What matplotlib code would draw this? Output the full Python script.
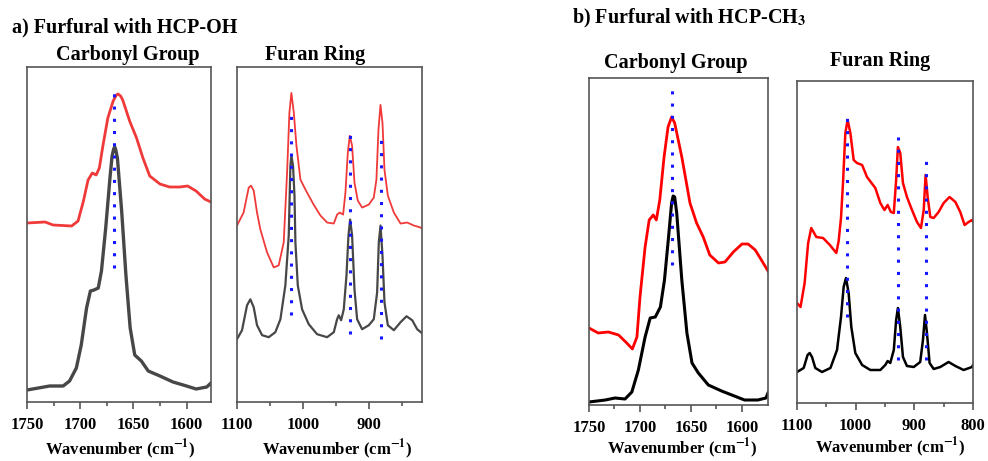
import numpy as np
import matplotlib.pyplot as plt

plt.rcParams['font.family'] = ['Liberation Serif', 'DejaVu Serif']
plt.rcParams['font.weight'] = 'bold'
plt.rcParams['mathtext.fontset'] = 'stix'

# ---- panel a, carbonyl region ----
a_co_red_x = [1750, 1733, 1725.5, 1708, 1702, 1697, 1692.6, 1688.6, 1685, 1682, 1678.5, 1674, 1669,
              1666, 1664.4, 1662, 1660, 1653.5, 1647, 1641, 1634.6, 1625, 1616, 1606.5, 1599, 1591,
              1583, 1577]
a_co_red_y = [179, 180, 177, 176, 181, 200.7, 222, 229, 227, 234, 257, 284, 301,
              307, 308, 306, 302, 281, 264, 244, 226, 218, 215, 215, 216, 211,
              203, 200]
a_co_blk_x = [1750, 1728.7, 1716, 1710, 1703.6, 1699, 1694, 1690.4, 1687, 1683, 1680, 1676, 1672,
              1670, 1668.5, 1667.5, 1666.5, 1665, 1661, 1657, 1653, 1648.7, 1642.5, 1636, 1625,
              1612.7, 1600, 1591, 1581, 1577]
a_co_blk_y = [12, 16, 16, 21, 34, 57, 94, 111, 112, 114, 131, 174, 224,
              246, 253, 255, 252, 244, 191, 127, 74, 47, 41, 31, 26,
              20, 16, 13, 15, 19]
a_co_marks = [(1668.2, 134, 317)]

# ---- panel a, furan ring region ----
a_fr_red_x = [1100, 1090, 1082.3, 1078.8, 1074.7, 1069.7, 1064.6, 1054.5, 1044.4, 1036.9, 1029.3,
              1024.2, 1020.7, 1017.7, 1014, 1010, 1004, 994, 984, 973.7, 963.6, 953.5, 948.5, 944.4,
              939.4, 935.9, 932.3, 929.3, 925.8, 922.2, 917.2, 910.6, 900.5, 893, 889, 885.9, 882.8,
              879.8, 876.8, 871.7, 862.6, 852.5, 842.4, 832.3, 822.2, 820]
a_fr_red_y = [177, 190, 215, 217, 212, 190, 173, 150, 135, 137, 160,
              230, 290, 310, 290, 257, 223, 210, 198, 187, 180, 179, 188, 190,
              188, 210, 250, 267, 257, 220, 202, 195, 198, 205, 223, 273, 298,
              280, 233, 207, 190, 179, 180, 177, 175, 174]
a_fr_blk_x = [1100, 1092.4, 1084.8, 1079.8, 1074.7, 1069.7, 1062, 1052, 1042, 1034.3, 1026.8, 1021.7,
              1019.2, 1017.7, 1015.2, 1013, 1011.6, 1008, 1001.5, 991.4, 978.8, 963.6, 953.5, 948.5,
              946, 942.4, 938.4, 934.3, 931.3, 928.8, 925.8, 922.2, 918.2, 910.6, 900.5, 893, 887.9,
              885.4, 882.8, 879.8, 876.8, 871.7, 862.6, 852.5, 843.4, 834.8, 827.3, 820]
a_fr_blk_y = [63, 72, 97, 103, 95, 77, 67, 65, 70, 83, 117, 167,
              237, 247, 237, 207, 160, 117, 93, 78, 68, 65, 70, 83,
              87, 82, 93, 127, 167, 183, 167, 113, 83, 73, 77, 83, 110,
              160, 177, 147, 100, 77, 72, 80, 86, 82, 73, 69]
a_fr_marks = [(1017.7, 87, 293), (928.8, 68, 275), (882.5, 63, 268)]

# ---- panel b, carbonyl region ----
b_co_red_x = [1750, 1741, 1731, 1721, 1713, 1707.5, 1703, 1700, 1695, 1691, 1687, 1684, 1680.6, 1676.4,
              1672.5, 1669, 1666, 1659, 1651, 1644.5, 1638, 1631.6, 1623, 1616.7, 1608.5, 1600, 1594,
              1587, 1581, 1574.5]
b_co_red_y = [77, 72, 73, 70, 62, 56, 68, 108, 158, 185, 190, 185, 205, 248,
              278, 288, 282, 248, 202, 182, 168, 150, 142, 143, 153, 161, 161,
              155, 145, 134]
b_co_blk_x = [1750, 1734, 1724.5, 1714.7, 1708, 1701.6, 1695, 1690, 1685, 1680, 1676, 1672, 1669,
              1667.5, 1666, 1664, 1659, 1654, 1649, 1642.8, 1633, 1620, 1610, 1597.5, 1584.5, 1576.5,
              1574.5]
b_co_blk_y = [3, 5, 7, 6, 13, 35, 68, 87, 88, 98, 125, 168, 202,
              209, 208, 192, 125, 72, 42, 32, 20, 14, 10, 5, 5, 7,
              12]
b_co_marks = [(1668.7, 140, 318)]

# ---- panel b, furan ring region ----
b_fr_red_x = [1100, 1094, 1087, 1081, 1075.7, 1067, 1055.6, 1044, 1033, 1029, 1025, 1021.6, 1017.6,
              1013.7, 1009, 1003.4, 997.8, 989, 980.7, 966.5, 958, 951, 945.5, 940, 935, 931, 928, 924,
              919.4, 912.6, 904, 895.5, 888.7, 884, 880.8, 877.3, 872.8, 867, 858.6, 850, 840, 830,
              821.7, 814.3, 807.5, 801.8, 800]
b_fr_red_y = [100, 96, 120, 160, 175, 166, 165, 158, 150, 162, 185, 220, 270,
              283, 270, 243, 240, 238, 226, 215, 200, 193, 198, 191, 190, 223, 256, 250,
              220, 206, 193, 181, 175, 193, 228, 206, 186, 185, 191, 200, 206, 201,
              191, 178, 181, 183, 182]
b_fr_blk_x = [1100, 1088.6, 1082, 1078.4, 1074.4, 1068.8, 1057.4, 1043, 1031.8, 1025, 1020.5, 1016.5,
              1012, 1007.4, 1000.6, 989, 975, 958, 949.5, 945.5, 941, 935, 931, 928, 924, 919.4, 912.6,
              901, 890, 885.3, 881.8, 878.5, 874, 867, 855.8, 841.6, 830, 816, 801.8, 800]
b_fr_blk_y = [31, 35, 48, 50, 46, 35, 31, 35, 53, 86, 116, 125,
              110, 76, 50, 38, 33, 33, 38, 42, 40, 53, 83, 95, 76, 46, 37,
              36, 41, 63, 88, 70, 40, 34, 36, 41, 37, 33, 36, 38]
b_fr_marks = [(1014.8, 86, 290), (927.3, 43, 270), (880.8, 43, 250)]

W, H = 988, 461
fig = plt.figure(figsize=(W / 100, H / 100), dpi=100)


def box(x0, y0, x1, y1):
    return [x0 / W, 1 - y1 / H, (x1 - x0) / W, (y1 - y0) / H]


def panel(rect, xlim, ylim, major, minor, red, blk, marks, red_c, blk_c, red_lw, blk_lw, spine_c):
    ax = fig.add_axes(rect)
    ax.plot(red[0], red[1], color=red_c, lw=red_lw)
    ax.plot(blk[0], blk[1], color=blk_c, lw=blk_lw)
    for x, y0, y1 in marks:
        ax.plot([x, x], [y0, y1], color='#1515ff', lw=2.2, linestyle=(0, (1, 3)),
                dash_capstyle='butt')
    ax.set_xlim(*xlim)
    ax.set_ylim(*ylim)
    ax.set_xticks(major)
    ax.set_xticks(minor, minor=True)
    ax.set_yticks([])
    ax.tick_params(axis='x', which='major', length=5, width=1.2, pad=6, labelsize=12,
                   color=spine_c)
    ax.tick_params(axis='x', which='minor', length=3, width=1.2, color=spine_c)
    for lab in ax.get_xticklabels():
        lab.set_fontweight('bold')
    for s in ax.spines.values():
        s.set_color(spine_c)
        s.set_linewidth(1.2)
    return ax


panel(box(27, 67, 211, 402), (1750, 1577), (0, 335), [1750, 1700, 1650, 1600], [1725, 1675, 1625],
      (a_co_red_x, a_co_red_y), (a_co_blk_x, a_co_blk_y), a_co_marks,
      '#f03a3a', '#474747', 2.0, 2.4, '#555555')
panel(box(237, 67, 422, 402), (1100, 820), (0, 336), [1100, 1000, 900], [1050, 950, 850],
      (a_fr_red_x, a_fr_red_y), (a_fr_blk_x, a_fr_blk_y), a_fr_marks,
      '#f03a3a', '#474747', 1.3, 1.6, '#555555')
panel(box(589, 78, 768, 405), (1750, 1574.5), (0, 327), [1750, 1700, 1650, 1600], [1725, 1675, 1625],
      (b_co_red_x, b_co_red_y), (b_co_blk_x, b_co_blk_y), b_co_marks,
      '#ff0000', '#000000', 2.0, 2.2, '#555555')
panel(box(797, 81, 973, 403), (1100, 800), (0, 322), [1100, 1000, 900, 800], [1050, 950, 850],
      (b_fr_red_x, b_fr_red_y), (b_fr_blk_x, b_fr_blk_y), b_fr_marks,
      '#ff0000', '#000000', 1.8, 1.8, '#555555')


def label(x, y, s, size=13, ha='center'):
    fig.text(x / W, 1 - y / H, s, ha=ha, va='center', fontsize=size, fontweight='bold')


label(12, 27, 'a) Furfural with HCP-OH', 14.5, 'left')
label(128, 55, 'Carbonyl Group', 14.5)
label(315, 55, 'Furan Ring', 14.5)
label(572, 18, r'b) Furfural with HCP-CH$_\mathbf{3}$', 14.5, 'left')
label(676, 63, 'Carbonyl Group', 14.5)
label(880, 61, 'Furan Ring', 14.5)
xl = r'Wavenumber (cm$^{\mathbf{-1}}$)'
label(120, 449, xl, 12)
label(337, 449, xl, 12)
label(682, 448, xl, 12)
label(890, 447, xl, 12)

fig.savefig('out.png', dpi=100)
